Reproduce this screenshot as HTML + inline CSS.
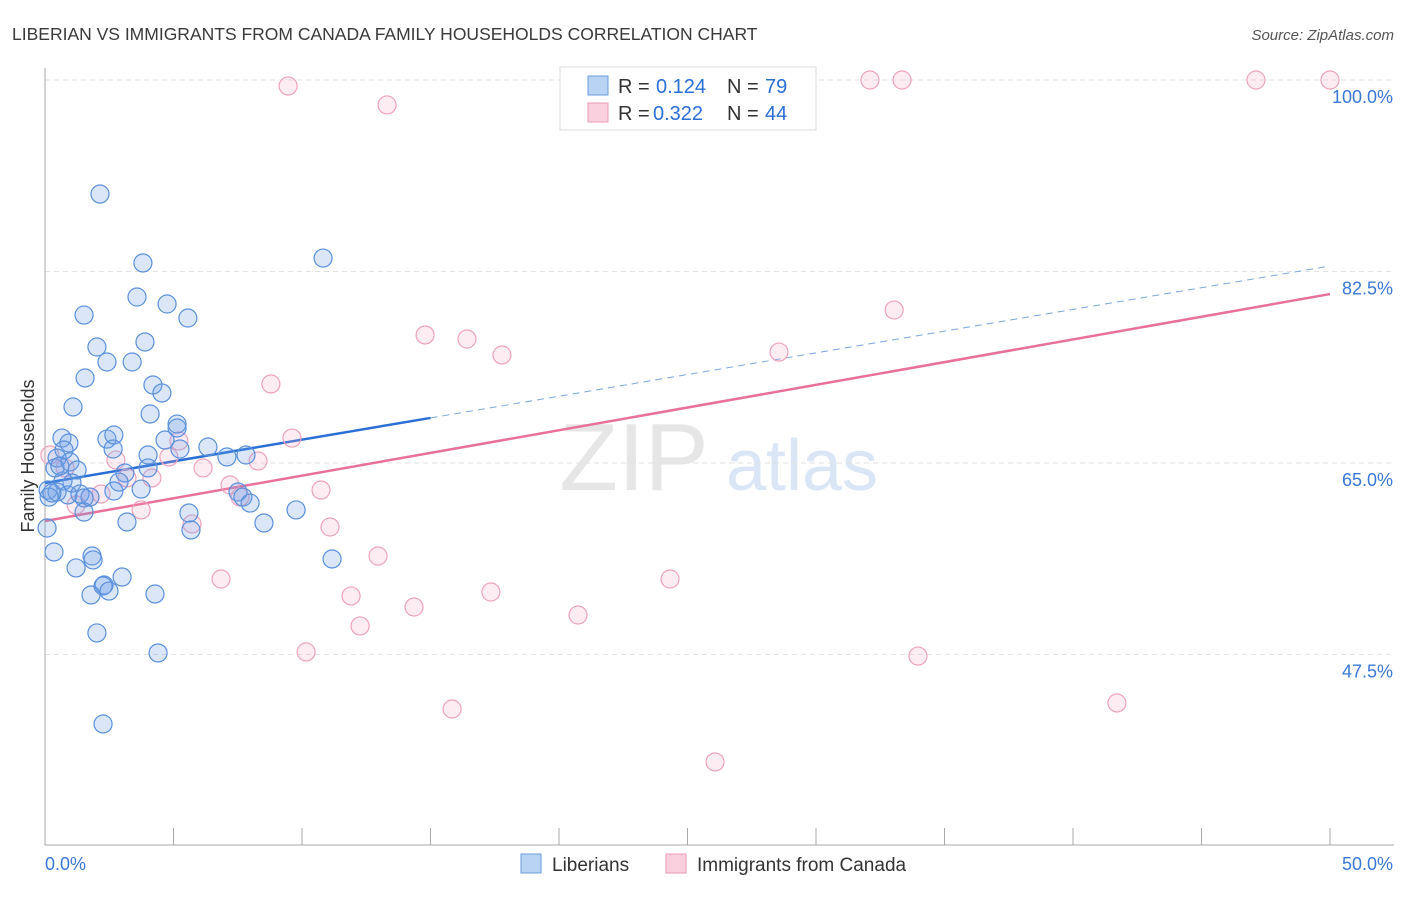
<!DOCTYPE html>
<html><head><meta charset="utf-8"><style>
body{margin:0;background:#fff;font-family:"Liberation Sans",sans-serif}
svg text{font-family:"Liberation Sans",sans-serif}
</style></head><body>
<svg id="c" width="1406" height="892" xmlns="http://www.w3.org/2000/svg">
<text x="12" y="40" font-size="17.5" fill="#3a3a3a">LIBERIAN VS IMMIGRANTS FROM CANADA FAMILY HOUSEHOLDS CORRELATION CHART</text>
<text x="1394" y="40" font-size="15" fill="#555" text-anchor="end" font-style="italic">Source: ZipAtlas.com</text>
<text x="634" y="490" font-size="96" fill="#e6e6e6" text-anchor="middle" font-family="Liberation Serif">ZIP</text>
<text x="802" y="490" font-size="72" fill="#dae6f6" text-anchor="middle">atlas</text>
<g id="grid"></g><g id="axes"></g><g id="lines"></g><g id="pts"></g>
<text transform="translate(34,456) rotate(-90)" font-size="18" fill="#333" text-anchor="middle">Family Households</text>
<g>
<rect x="560" y="67" width="256" height="63" fill="#fff" stroke="#ddd"/>
<rect x="588" y="76" width="20" height="19" fill="#b9d3f5" stroke="#6a9ee0"/>
<rect x="588" y="103" width="20" height="19" fill="#fbd0de" stroke="#ec9ab6"/>
<text x="618" y="93" font-size="20" fill="#333">R =</text>
<text x="656" y="93" font-size="20" fill="#2a6fd6">0.124</text>
<text x="727" y="93" font-size="20" fill="#333">N =</text>
<text x="765" y="93" font-size="20" fill="#2a6fd6">79</text>
<text x="618" y="120" font-size="20" fill="#333">R =</text>
<text x="653" y="120" font-size="20" fill="#2a6fd6">0.322</text>
<text x="727" y="120" font-size="20" fill="#333">N =</text>
<text x="765" y="120" font-size="20" fill="#2a6fd6">44</text>
</g>
<g>
<rect x="521" y="854" width="20" height="19" fill="#b9d3f5" stroke="#6a9ee0"/>
<text x="552" y="871" font-size="19" fill="#333">Liberians</text>
<rect x="666" y="854" width="20" height="19" fill="#fbd0de" stroke="#ec9ab6"/>
<text x="697" y="871" font-size="19" fill="#333">Immigrants from Canada</text>
</g>
</svg>
<script>
const yTicks=[100,82.5,65,47.5];
const yTickLabels=["100.0%","82.5%","65.0%","47.5%"];
const xTickLabels=["0.0%","50.0%"];
const blueX=[2.14,3.81,10.82,3.58,4.75,1.52,5.56,2.02,3.89,2.41,3.39,1.56,4.20,4.55,1.09,4.09,5.14,5.14,0.66,0.93,2.41,2.68,4.67,6.34,5.25,2.65,0.74,4.01,7.08,7.82,0.47,0.97,0.39,1.25,4.01,3.11,2.88,1.05,0.70,0.12,0.47,0.89,1.36,1.75,1.52,0.16,2.68,3.74,7.51,7.70,7.98,1.52,9.77,5.60,5.68,3.19,8.52,0.08,0.35,1.83,1.87,11.17,1.21,3.00,2.30,2.26,2.49,1.79,4.28,2.02,4.40,2.26,0.27,0.58];
const blueY=[89.58,83.28,83.73,80.17,79.53,78.52,78.25,75.60,76.06,74.23,74.23,72.77,72.13,71.40,70.12,69.48,68.56,68.20,67.28,66.83,67.19,67.56,67.10,66.46,66.28,66.28,66.19,65.73,65.55,65.73,65.46,65.10,64.55,64.36,64.55,64.09,63.26,63.17,63.36,62.53,62.35,62.08,62.17,61.89,61.80,61.89,62.44,62.62,62.35,61.89,61.34,60.52,60.71,60.43,58.88,59.61,59.52,59.06,56.87,56.50,56.14,56.23,55.41,54.58,53.85,53.76,53.30,52.94,53.03,49.47,47.64,41.15,62.26,64.73];
const pinkX=[9.46,13.31,32.10,33.35,47.12,50,33.04,14.79,16.42,17.78,28.56,8.79,9.61,5.21,8.29,6.15,4.82,2.76,4.16,3.19,7.20,7.59,10.74,2.18,1.75,3.74,1.21,5.72,11.09,12.96,0.19,0.78,6.85,24.32,17.35,11.91,14.36,20.74,12.26,10.16,33.97,15.84,41.71,26.07];
const pinkY=[99.45,97.72,100,100,100,100,78.98,76.70,76.33,74.87,75.14,72.22,67.28,67.01,65.18,64.55,65.55,65.27,63.63,63.63,62.99,61.89,62.53,62.17,61.89,60.71,61.16,59.43,59.15,56.50,65.73,64.55,54.40,54.40,53.21,52.85,51.84,51.11,50.11,47.73,47.36,42.52,43.07,37.68];
const blueTrend=[63.17,83.0];
const pinkTrend=[59.70,80.44];
const NS="http://www.w3.org/2000/svg";
const X=v=>45+v*25.7, Y=v=>80+(100-v)*10.943;
function mk(p,t,a){const e=document.createElementNS(NS,t);for(const k in a)e.setAttribute(k,a[k]);document.getElementById(p).appendChild(e);return e;}
yTicks.forEach((t,i)=>{
 const g=mk('grid','line',{x1:45,x2:1394,y1:Y(t),y2:Y(t),stroke:'#e2e2e2','stroke-dasharray':'5,4'});
 
 
 const l=mk('axes','text',{x:1393,y:Y(t)+23,'font-size':18,fill:'#3a78d6','text-anchor':'end'});
 l.textContent=yTickLabels[i];
 
 
});
const ax=mk('axes','line',{x1:45,x2:45,y1:68,y2:845,stroke:'#aaa'});


const bx=mk('axes','line',{x1:45,x2:1394,y1:845,y2:845,stroke:'#aaa'});


for(let i=0;i<=10;i++){const t=mk('axes','line',{x1:X(i*5),x2:X(i*5),y1:828,y2:845,stroke:'#aaa'});
 
 }
[[0,'start',45],[50,'end',1393]].forEach((d,i)=>{const l=mk('axes','text',{x:d[2],y:870,'font-size':18,fill:'#3a78d6','text-anchor':d[1]});
 l.textContent=xTickLabels[i];
 
 });
const bt=v=>blueTrend[0]+(blueTrend[1]-blueTrend[0])*v/50;
const pt=v=>pinkTrend[0]+(pinkTrend[1]-pinkTrend[0])*v/50;
let e=mk('lines','line',{x1:X(0),y1:Y(pt(0)),x2:X(50),y2:Y(pt(50)),stroke:'#e8709a','stroke-width':2.5});


e=mk('lines','line',{x1:X(0),y1:Y(bt(0)),x2:X(15),y2:Y(bt(15)),stroke:'#2a6fd6','stroke-width':2.5});


e=mk('lines','line',{x1:X(15),y1:Y(bt(15)),x2:X(50),y2:Y(bt(50)),stroke:'#7aa6e0','stroke-width':1,'stroke-dasharray':'7,5'});


pinkX.forEach((x,i)=>{const c=mk('pts','circle',{cx:X(x),cy:Y(pinkY[i]),r:9,fill:'rgba(244,160,188,0.2)',stroke:'#eea2bc','stroke-width':1.2});
 
 });
blueX.forEach((x,i)=>{const c=mk('pts','circle',{cx:X(x),cy:Y(blueY[i]),r:9,fill:'rgba(110,160,232,0.25)',stroke:'#5a90dc','stroke-width':1.2});
 
 });
</script>
</body></html>
